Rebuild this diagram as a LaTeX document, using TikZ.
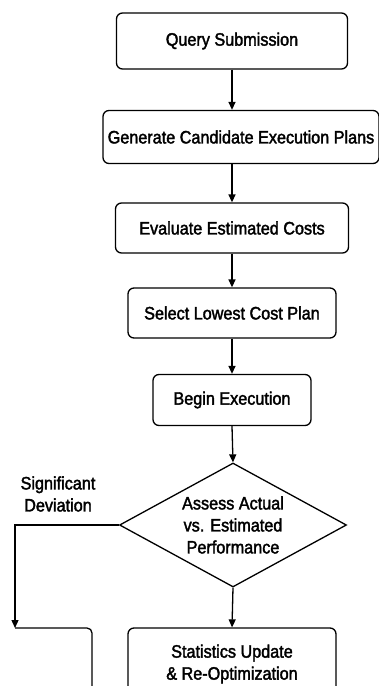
\documentclass[tikz,border=0pt]{standalone}
\usepackage{fontspec}
\setmainfont{Liberation Sans}[FakeBold=2, FakeStretch=0.9]
\usetikzlibrary{shapes.geometric,arrows.meta}
\begin{document}
\begin{tikzpicture}[x=1pt,y=1pt,
  box/.style={draw, rounded corners=6pt, line width=1.3pt, align=center, inner sep=0pt},
  decision/.style={draw, diamond, aspect=1.83, line width=1.3pt, align=center, inner sep=0pt},
  arr/.style={-{Triangle[length=8pt,width=7pt]}, line width=1.3pt},
  font=\fontsize{18}{22}\selectfont]
\clip (0,0) rectangle (379,-686);
\useasboundingbox (0,0) rectangle (379,-686);
\node[box, minimum width=231, minimum height=56] (qs) at (232,-41) {Query Submission};
\node[box, minimum width=276, minimum height=53] (gen) at (241,-137) {Generate Candidate Execution Plans};
\node[box, minimum width=233, minimum height=50] (eval) at (232,-228) {Evaluate Estimated Costs};
\node[box, minimum width=208, minimum height=50] (sel) at (232,-313) {Select Lowest Cost Plan};
\node[box, minimum width=158, minimum height=51] (begin) at (232,-400) {Begin Execution};
\node[decision, minimum width=227, minimum height=124] (assess) at (233,-525) {Assess Actual\\vs. Estimated\\Performance};
\node[box, minimum width=208, minimum height=72] (stats) at (232,-664) {Statistics Update\\\& Re-Optimization};
\node[align=center] (dev) at (58,-494) {Significant\\Deviation};
\coordinate (turn) at (15,-628);
\coordinate (out) at (92,-700);
\draw[arr] (qs.south) -- (qs.south |- gen.north);
\draw[arr] (qs.south |- gen.south) -- (eval.north);
\draw[arr] (eval.south) -- (sel.north);
\draw[arr] (sel.south) -- (begin.north);
\draw[arr] (begin.south) -- (assess.north);
\draw[arr] (assess.south) -- (stats.north);
\draw[arr] (assess.west) -| (turn);
\draw[line width=1.3pt, rounded corners=5pt] (turn) -| (out);
\end{tikzpicture}
\end{document}
